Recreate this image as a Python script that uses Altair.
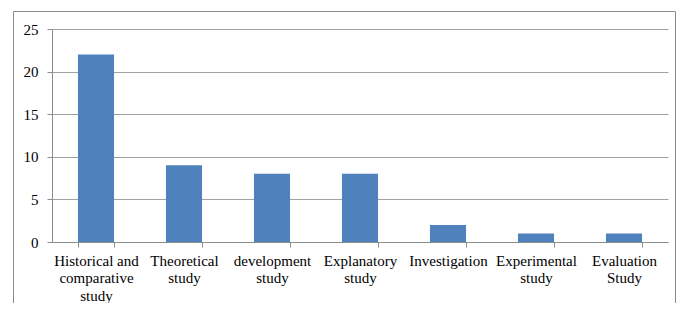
import altair as alt
import pandas as pd

categories = [
    "Historical and|comparative|study",
    "Theoretical|study",
    "development|study",
    "Explanatory|study",
    "Investigation",
    "Experimental|study",
    "Evaluation|Study",
]
values = [22, 9, 8, 8, 2, 1, 1]
y_ticks = [0, 5, 10, 15, 20, 25]

df = pd.DataFrame({"category": categories, "value": values})

FONT = "Liberation Serif"

bars = alt.Chart(df).mark_bar(color="#4F81BD").encode(
    x=alt.X(
        "category:N",
        sort=categories,
        title=None,
        scale=alt.Scale(paddingInner=0.59, paddingOuter=0.295),
        axis=alt.Axis(
            labelAngle=0,
            labelExpr="split(datum.label, '|')",
            tickBand="extent",
            labelLineHeight=17.5,
            labelPadding=6,
            tickSize=5,
            grid=False,
            labelBaseline="top",
        ),
    ),
    y=alt.Y(
        "value:Q",
        title=None,
        scale=alt.Scale(domain=[0, 25]),
        axis=alt.Axis(
            values=y_ticks,
            labelPadding=9,
            tickSize=5,
            gridColor="#A0A0A0",
            grid=True,
        ),
    ),
)

frame = alt.Chart(pd.DataFrame({"a": [0]})).mark_rect(
    fillOpacity=0, stroke="#8C8C8C", strokeWidth=1
).encode(
    x=alt.value(-38.5), x2=alt.value(623.5), y=alt.value(-17.5), y2=alt.value(300)
)

chart = alt.layer(frame, bars).properties(
    width=616,
    height=213,
    autosize=alt.AutoSizeParams(type="none"),
    padding={"left": 44, "top": 21, "right": 8, "bottom": 61},
).configure(font=FONT).configure_view(stroke=None).configure_axis(
    labelFont=FONT,
    labelFontSize=15,
    labelColor="#000000",
    tickColor="#8C8C8C",
    domainColor="#8C8C8C",
)

chart.save("out.html", embed_options={"renderer": "svg", "actions": False})
